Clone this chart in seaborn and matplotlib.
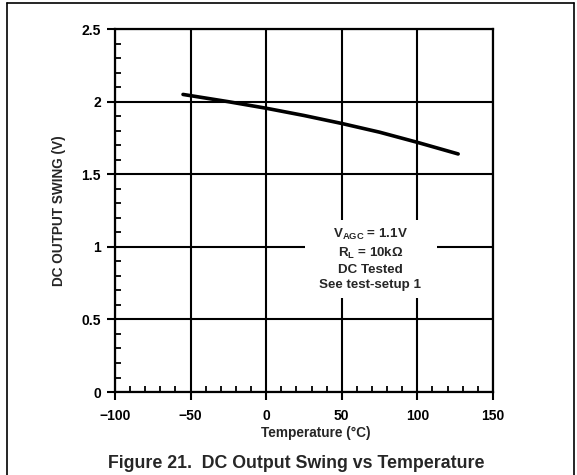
"""
DC output swing vs temperature (datasheet figure 21).
"""

import matplotlib
matplotlib.use("Agg")
import matplotlib.pyplot as plt
from matplotlib.lines import Line2D
from matplotlib.patches import Rectangle
import seaborn as sns

temperature = [-55, -25, 0, 25, 50, 75, 100, 127]
swing = [2.05, 2.0, 1.955, 1.905, 1.85, 1.79, 1.72, 1.64]

x_ticks = [-100, -50, 0, 50, 100, 150]
y_ticks = [0, 0.5, 1, 1.5, 2, 2.5]
y_labels = ["0", "0.5", "1", "1.5", "2", "2.5"]
note_lines = [r"V$_{\mathrm{AGC}}$ = 1.1V", r"R$_{\mathrm{L}}$ = 10kΩ", "DC Tested", "See test-setup 1"]

sns.set_theme(style="ticks")
plt.rcParams["font.family"] = ["Liberation Sans", "DejaVu Sans"]
plt.rcParams["font.weight"] = "bold"
plt.rcParams["mathtext.fontset"] = "custom"
plt.rcParams["mathtext.rm"] = "Liberation Sans:bold"
plt.rcParams["mathtext.it"] = "Liberation Sans:bold"
plt.rcParams["mathtext.default"] = "rm"

fig = plt.figure(figsize=(5.77, 4.75), dpi=100)
ax = fig.add_axes([0.1993, 0.1747, 0.655, 0.764])

sns.lineplot(x=temperature, y=swing, color="black", linewidth=2.6, ax=ax, zorder=3)

ax.set_xlim(-100, 150)
ax.set_ylim(0, 2.5)
ax.set_xticks(x_ticks)
ax.set_yticks(y_ticks)
ax.set_yticklabels(y_labels)
ax.set_xticks(range(-100, 151, 10), minor=True)
ax.set_yticks([i / 10 for i in range(26)], minor=True)

ax.grid(True, which="major", color="black", linewidth=1.5)
ax.set_axisbelow(True)
for s in ax.spines.values():
    s.set_linewidth(1.6)
    s.set_color("black")

ax.tick_params(which="major", direction="out", length=6, width=1.5, labelsize=10, pad=4, colors="black")
ax.tick_params(which="minor", direction="in", length=4, width=1.3, colors="black")
ax.tick_params(axis="x", pad=6)

ax.set_xlabel("Temperature (°C)", fontsize=9.8, fontweight="bold")
ax.xaxis.set_label_coords(0.53, -0.095)
ax.set_ylabel("DC OUTPUT SWING (V)", fontsize=9.8, fontweight="bold")
ax.yaxis.set_label_coords(-0.13, 0.5)

# white patch behind the test conditions
ax.add_patch(Rectangle((25.7, 0.647), 87.3, 0.538, facecolor="white", edgecolor="none", zorder=2))
note_y = [1.085, 0.955, 0.84, 0.735]
for txt, yy in zip(note_lines, note_y):
    ax.text(69, yy, txt, ha="center", va="center", fontsize=9.6, fontweight="bold", zorder=4)

fig.text(0.513, 0.025, "Figure 21.  DC Output Swing vs Temperature", ha="center", va="center",
         fontsize=12.8, fontweight="bold")

# page frame
fig.add_artist(Line2D([0.012, 0.012], [0, 0.994], color="black", linewidth=1.2))
fig.add_artist(Line2D([0.995, 0.995], [0, 0.994], color="black", linewidth=1.2))
fig.add_artist(Line2D([0.012, 0.995], [0.994, 0.994], color="black", linewidth=1.2))

fig.savefig("out.png", dpi=100)
